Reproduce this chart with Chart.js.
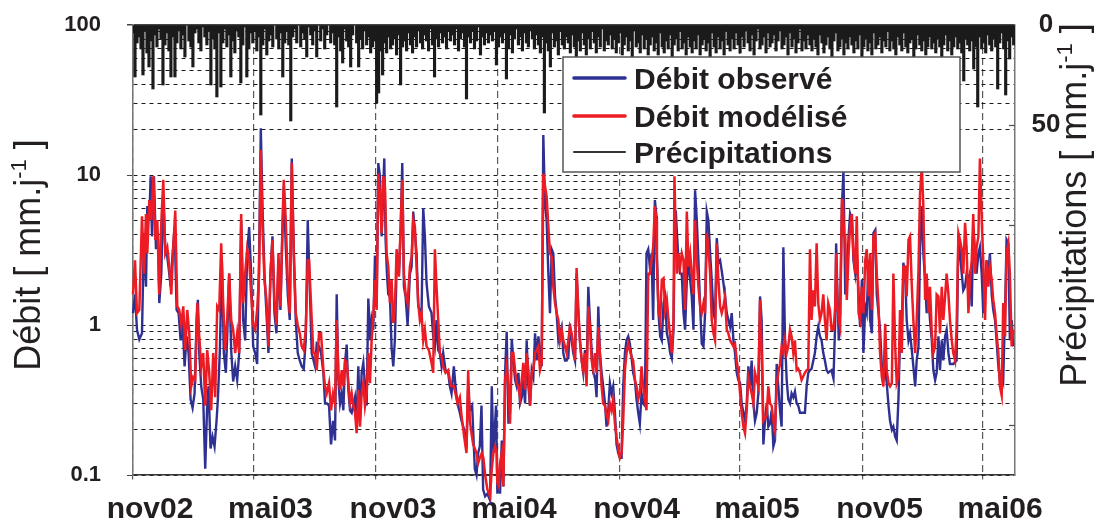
<!DOCTYPE html>
<html lang="fr">
<head>
<meta charset="utf-8">
<title>Débit observé, débit modélisé et précipitations</title>
<script src="https://cdn.jsdelivr.net/npm/chart.js@4.4.1/dist/chart.umd.min.js"></script>
<style>
  html, body { margin: 0; padding: 0; background: #ffffff; }
  canvas { display: block; }
</style>
</head>
<body>
<canvas id="hydro" width="1096" height="525"></canvas>
<script>
// Time axis: days counted from 1 November 2002
const moisJours  = [0, 181, 365, 547, 731, 912, 1096, 1277];
const moisLabels = ['nov02', 'mai03', 'nov03', 'mai04', 'nov04', 'mai05', 'nov05', 'mai06'];
const dernierJour = 1325;

// Discharge axis (log), mm/day
const debitTicks = [0.1, 0.2, 0.3, 0.4, 0.5, 0.6, 0.7, 0.8, 0.9,
                    1, 2, 3, 4, 5, 6, 7, 8, 9,
                    10, 20, 30, 40, 50, 60, 70, 80, 90, 100];
const debitMajeurs = [0.1, 1, 10, 100];
const debitMajeursLabels = ['0.1', '1', '10', '100'];

// Precipitation axis (reversed), mm/day
const precipTicks  = [0, 50, 100, 150, 200];
const precipLabels = ['0', '50', '', '', ''];

// Observed discharge [day, mm/day]
const debitObserve = [
  [0,1.2],[3,1.6],[6,0.93],[9.5,0.8],[13.5,0.88],[16.5,4.1],[19.5,1.8],[21.5,6.2],[24.5,5.0],[26.5,9.8],
  [28.5,3.9],[31.5,9.8],[34.5,3.2],[37.5,4.1],[39.5,1.4],[42.5,2.2],[45.5,7.2],[48.5,3.2],[51.5,2.85],[54.5,2.2],
  [56.5,1.8],[59.5,3.0],[62.5,4.5],[65.5,1.26],[68.5,1.2],[71.5,0.79],[74.5,1.08],[77.5,0.53],[80.5,0.84],[83.5,0.65],
  [86.5,0.32],[89.5,0.28],[92.5,0.35],[95.5,1.08],[97.5,1.47],[99.5,0.65],[102.5,0.39],[105.5,0.32],[108.5,0.11],[111.5,0.3],
  [113.5,0.39],[116.5,0.15],[119.5,0.18],[122.5,0.155],[125.5,0.23],[127.5,0.32],[130.5,0.68],[133.5,2.7],[136.5,0.65],[139.5,0.48],
  [141.5,0.84],[144.5,2.2],[147.5,0.68],[150.5,0.42],[153.5,0.53],[156.5,0.43],[159.5,0.65],[162.5,5.0],[165.5,1.08],[168.5,0.79],
  [171.5,3.0],[174.5,4.5],[177.5,2.2],[180.5,0.72],[183.5,0.65],[186.5,0.55],[189.5,3.0],[192,20.5],[194.5,6.2],[197.5,2.2],
  [200.5,1.2],[203.5,0.65],[206.5,2.2],[209.5,3.9],[212.5,1.2],[215.5,0.88],[218.5,2.7],[221.5,1.26],[224.5,4.1],[226.5,8.4],
  [229.5,3.3],[232.5,1.6],[235.5,1.08],[238.5,12.9],[241.5,3.0],[244.5,1.08],[247.5,0.65],[250.5,0.58],[253.5,0.53],[256.5,0.51],
  [259.5,0.79],[262.5,5.0],[268.5,0.65],[273.5,0.53],[276,0.75],[279.5,0.72],[282.5,0.65],[286,0.48],[288.5,0.3],[291.5,0.3],
  [294.5,0.29],[297.5,0.16],[300.5,0.23],[303.5,0.17],[306,1.6],[308.5,0.43],[311,0.3],[313.5,0.35],[316,0.27],[318.5,0.56],
  [321,0.74],[323.5,0.37],[326,0.27],[328.5,0.26],[333.5,0.33],[336,0.23],[338.5,0.53],[341,0.23],[343.5,0.48],[346,0.56],
  [348.5,0.39],[351,0.29],[353.5,1.5],[356.5,0.79],[358.5,1.08],[361,0.93],[363.5,2.9],[366,1.33],[368.5,12],[371,9.8],
  [373.5,3.9],[376,8.4],[377.5,12.9],[379.5,3.7],[381.5,2.2],[383.5,1.6],[386,1.55],[388.5,0.7],[391,0.53],[393.5,0.81],
  [396.5,3.0],[399.5,2.2],[402,4.1],[404.5,12],[407,1.8],[409.5,1.55],[412.5,1.0],[416,2.2],[418.5,2.45],[421,5.7],
  [423.5,4.1],[426,3.0],[428.5,1.33],[431,1.26],[433.5,1.2],[436,6.0],[438.5,3.9],[441,1.9],[444.5,1.33],[448.5,1.2],
  [451,0.84],[453.5,0.72],[456,1.08],[458.5,0.68],[461,0.65],[463.5,0.53],[466,0.65],[469.5,0.5],[473.5,0.48],[476,0.39],
  [478.5,0.35],[482,0.53],[484.5,0.39],[487.5,0.3],[491,0.26],[493.5,0.23],[497.5,0.2],[501,0.15],[503.5,0.39],[506,0.27],
  [509.5,0.29],[511,0.2],[513.5,0.11],[516,0.1],[518.5,0.14],[521,0.155],[523.5,0.29],[526,0.08],[529,0.072],[532.4,0.075],
  [536.4,0.068],[539,0.39],[541.4,0.14],[545.4,0.29],[547.4,0.075],[549.4,0.1],[551.4,0.075],[554,0.17],[556.4,0.084],[559,0.48],
  [561.4,0.9],[564,0.22],[566.4,0.26],[569,0.81],[571.4,0.58],[574,0.43],[576.4,0.39],[579,0.48],[581.4,0.3],[584,0.33],
  [586.4,0.43],[589,0.3],[591.4,0.79],[594,0.39],[596.4,0.29],[599,0.5],[601.4,0.45],[604,0.88],[606.4,0.58],[609,0.84],
  [611.4,0.65],[614,0.53],[616.4,18.5],[619,6.2],[621.4,5.0],[624,2.2],[626.4,1.2],[629,3.2],[631.4,3.0],[634,1.55],
  [636.4,1.2],[639,0.79],[641.4,0.88],[644,0.97],[646.4,0.65],[649,0.58],[651.4,0.58],[654,0.61],[656.4,1.02],[659,0.79],
  [661.4,0.65],[664,0.58],[666.4,2.2],[669,1.2],[671.4,0.79],[674,0.58],[676.4,0.48],[679,0.68],[681.4,0.48],[684,1.8],
  [686.4,1.08],[689,0.68],[691.4,0.48],[694,0.45],[696.4,0.33],[699,1.33],[701.4,0.65],[704,0.48],[706.4,0.39],[709,0.3],
  [711.4,0.21],[714,0.27],[716.4,0.41],[719,0.35],[721.4,0.39],[724,0.26],[726.4,0.16],[729,0.14],[731.4,0.13],[734,0.13],
  [736.4,0.39],[739,0.65],[741.4,0.79],[744,0.84],[746.4,0.75],[749,0.61],[751.4,0.48],[754,0.43],[756.4,0.32],[759,0.26],
  [761.4,0.22],[764,0.35],[766.4,0.3],[769,0.29],[771.4,3.0],[774,3.2],[776.4,2.45],[779,3.0],[781.4,1.08],[784,6.8],
  [786.4,5.3],[787,3.0],[789.4,1.2],[792,0.84],[794.4,0.79],[797,1.4],[799.4,1.55],[802,0.88],[804.4,0.79],[807,0.65],
  [809.4,0.6],[812,0.93],[813.4,3.0],[815.4,5.8],[817.4,3.9],[819.4,2.7],[822,2.2],[824.4,2.2],[827,1.2],[829.4,0.93],
  [832,2.0],[834.4,2.7],[837,2.0],[839.4,1.55],[842,0.93],[844.4,7.9],[847,5.0],[849.4,2.7],[852,1.33],[854.4,0.75],
  [857,0.72],[859.4,1.2],[862,5.7],[864.4,5.0],[867,3.0],[869.4,2.0],[872,1.2],[874.4,1.08],[877,3.8],[879.4,2.6],
  [882,2.7],[884.4,2.3],[887,1.9],[889.4,1.55],[892,1.2],[894.4,1.08],[897,0.97],[899.4,1.2],[902,0.79],[904.4,0.65],
  [907,0.48],[909.4,0.43],[912,0.41],[914.4,0.3],[917,0.26],[919.4,0.23],[922,0.3],[924.4,0.53],[927,0.39],[929.4,0.58],
  [932,0.3],[934.4,0.23],[937,0.26],[939.4,0.35],[942,1.55],[944.4,1.08],[947,0.16],[949.4,0.23],[952,0.3],[954.4,0.21],
  [957,0.22],[959.4,0.27],[962,0.155],[964.4,0.17],[967,0.55],[969.4,0.39],[972,0.27],[974.4,0.21],[977,3.3],[979.4,0.84],
  [982,0.43],[984.4,0.32],[987,0.3],[989.4,0.35],[992,0.33],[994.4,0.36],[997,0.3],[999.4,0.29],[1002,0.26],[1004.4,0.26],
  [1009.4,0.26],[1012,0.39],[1014.4,0.48],[1017,0.5],[1019.4,0.51],[1024.4,0.65],[1027,0.84],[1029.4,0.97],[1032,0.84],[1034.4,0.79],
  [1037,0.65],[1039.4,0.58],[1042,0.5],[1044.4,0.48],[1049.4,0.5],[1052.3,0.44],[1055,1.08],[1056.3,3.5],[1058.3,1.6],[1060.3,0.79],
  [1062.3,1.2],[1065,6.2],[1067.3,10.8],[1070,1.6],[1072.3,2.0],[1075,3.9],[1077.3,5.5],[1080,5.0],[1082.3,2.7],[1085,2.2],
  [1087.3,3.0],[1090,1.6],[1092.3,0.97],[1095,2.0],[1097.3,0.65],[1100,1.33],[1102.3,1.2],[1105,2.7],[1107.3,1.08],[1110,0.88],
  [1112.3,4.1],[1115,4.3],[1117.3,1.6],[1120,1.2],[1122.3,0.93],[1125,0.53],[1127.3,0.43],[1130,0.5],[1132.3,0.41],[1135,0.29],
  [1137.3,0.23],[1140,0.2],[1142.3,0.21],[1145,0.18],[1147.3,0.17],[1150,0.33],[1152.3,0.84],[1155,0.97],[1157.3,2.6],[1160,2.2],
  [1162.3,1.08],[1165,0.79],[1167.3,0.88],[1170,0.68],[1172.3,0.53],[1175,0.39],[1177.3,0.58],[1180,0.72],[1182.3,3.2],[1185,6.2],
  [1187.3,3.0],[1190,2.0],[1192.3,1.2],[1195,1.6],[1197.3,1.08],[1200,0.79],[1202.3,0.5],[1205,0.43],[1207.3,0.48],[1210,0.84],
  [1212.3,0.5],[1215,0.79],[1217.3,0.58],[1220,0.84],[1222.3,0.93],[1225,0.65],[1227.3,0.55],[1232.3,0.55],[1237.3,0.58],[1240,4.1],
  [1242.3,3.0],[1245,2.2],[1247.3,1.7],[1250,1.8],[1252.3,2.2],[1255,2.0],[1257.3,2.2],[1260,1.33],[1262.3,4.5],[1265,3.0],
  [1267.3,2.2],[1270,3.0],[1272.3,3.3],[1275,2.2],[1277.3,1.2],[1280,1.8],[1282.3,2.7],[1285,2.2],[1287.3,3.0],[1290,1.6],
  [1292.3,1.26],[1295,1.08],[1297.3,0.79],[1300,0.53],[1302.3,0.43],[1305,0.48],[1307.3,0.43],[1310,1.2],[1312.3,3.7],[1315,3.5],
  [1317.3,0.79],[1320,1.08],[1322.3,0.72]
];

// Modelled discharge [day, mm/day]
const debitModelise = [
  [0,1.6],[3,2.7],[6,1.2],[9.5,1.26],[13.5,5.3],[16.5,2.2],[19.5,5.5],[21.5,3.0],[24.5,6.8],[27.5,5.0],
  [30.5,9.8],[33.5,3.7],[36.5,5.0],[39.5,1.6],[42.5,4.8],[45.5,9.3],[48.5,3.0],[51.5,3.3],[54.5,2.45],[57.5,1.6],
  [60.5,3.3],[63.5,5.8],[66.5,1.33],[69.5,1.26],[72.5,1.0],[75.5,1.33],[78.5,0.68],[81.5,1.26],[84.5,0.88],[87.5,0.39],
  [90.5,0.45],[93.5,0.43],[96.5,1.4],[99.5,0.84],[102.5,0.53],[105.5,0.65],[108.5,0.29],[111.5,0.68],[114.5,0.48],[117.5,0.27],
  [120.5,0.65],[123.5,0.33],[126.5,1.33],[129.5,1.26],[132.5,3.5],[135.5,1.4],[138.5,0.68],[141.5,1.08],[144.5,2.2],[147.5,1.08],
  [150.5,0.93],[153.5,0.65],[156.5,0.88],[159.5,0.65],[162.5,5.5],[165.5,1.4],[168.5,2.2],[171.5,3.2],[174.5,2.7],[177.5,1.6],
  [180.5,1.0],[183.5,0.93],[186.5,1.26],[189.5,2.2],[192,14.7],[194.5,4.5],[197.5,2.0],[200.5,1.47],[203.5,0.72],[206.5,2.2],
  [209.5,3.7],[212.5,1.47],[215.5,1.0],[218.5,3.0],[221.5,1.33],[224.5,4.5],[226.5,9.3],[229.5,5.0],[232.5,2.0],[235.5,1.2],
  [238.5,12],[241.5,3.2],[244.5,1.2],[247.5,1.0],[250.5,0.88],[253.5,0.72],[256.5,0.68],[259.5,0.93],[262.5,2.7],[264.5,2.7],
  [268.5,1.08],[271,0.65],[273.5,0.65],[276,0.5],[279.5,0.88],[282.5,0.88],[286,0.5],[288.5,0.39],[291,0.35],[294.5,0.41],
  [297.5,0.27],[300.5,0.35],[303.5,0.3],[306,1.08],[308.5,0.48],[311,0.37],[313.5,0.5],[316,0.39],[318.5,0.58],[321,0.56],
  [323.5,0.41],[326,0.3],[328.5,0.35],[331,0.29],[333.5,0.26],[336,0.19],[338.5,0.37],[341,0.21],[343.5,0.35],[346,0.41],
  [348.5,0.29],[351,0.35],[353.5,0.65],[356,0.41],[358.5,0.79],[361,1.14],[363.5,2.0],[366,1.26],[368.5,10.2],[371,7.5],
  [373.5,4.1],[376,9.8],[378.5,8.4],[381,3.0],[383.5,2.45],[386,1.4],[388.5,2.0],[391,1.03],[393.5,1.33],[396,3.2],
  [399.5,2.1],[402,4.5],[404.5,9.3],[407,2.2],[409.5,1.6],[412.5,1.4],[416,2.45],[418.5,2.85],[421,5.0],[423.5,4.5],
  [426,2.45],[428.5,1.4],[431,1.08],[433.5,1.2],[436,0.79],[438.5,0.93],[441,0.72],[444.5,0.68],[448.5,0.56],[451,0.48],
  [453.5,3.2],[456,1.8],[458.5,1.08],[461,0.65],[463.5,0.62],[466,0.53],[469.5,0.48],[473.5,0.5],[476,0.43],[478.5,0.39],
  [482,0.39],[484.5,0.35],[487.5,0.3],[491,0.33],[493.5,0.25],[497.5,0.18],[501,0.14],[503.5,0.5],[506,0.23],[508.5,0.19],
  [511,0.16],[513.5,0.15],[516,0.14],[518.5,0.12],[521,0.13],[524,0.14],[526.4,0.13],[529,0.1],[532.4,0.08],[536.4,0.072],
  [539,0.11],[541.4,0.14],[544,0.155],[546.4,0.14],[547.4,0.088],[549.4,0.084],[551.4,0.12],[554,0.14],[556.4,0.084],[559,0.43],
  [561.4,0.53],[564,0.39],[566.4,0.22],[569,0.65],[571.4,0.65],[574,0.5],[576.4,0.41],[579,0.39],[581.4,0.33],[584,0.43],
  [586.4,0.56],[589,0.37],[591.4,0.65],[594,0.5],[596.4,0.29],[599,0.48],[601.4,0.5],[604,0.65],[606.4,0.68],[609,0.72],
  [611.4,0.5],[614,0.56],[616.4,10.2],[619,8.4],[621.4,7.2],[624,4.5],[626.4,3.0],[629,2.85],[631.4,1.8],[634,1.4],
  [636.4,1.2],[639,1.08],[641.4,0.79],[644,0.93],[646.4,0.79],[649,0.72],[651.4,0.65],[654,0.79],[656.4,0.97],[659,0.88],
  [661.4,0.72],[664,0.58],[666.4,2.4],[669,1.26],[671.4,0.79],[674,0.58],[676.4,0.5],[679,0.65],[681.4,0.39],[684,1.33],
  [686.4,0.97],[689,0.58],[691.4,0.5],[694,0.65],[696.4,0.48],[699,0.97],[701.4,0.65],[704,0.39],[706.4,0.3],[709,0.29],
  [711.4,0.25],[714,0.23],[716.4,0.3],[719,0.27],[721.4,0.32],[724,0.22],[726.4,0.18],[729,0.15],[731.4,0.13],[734,0.14],
  [736.4,0.23],[739,0.5],[741.4,0.65],[744,0.75],[746.4,0.68],[749,0.61],[751.4,0.58],[754,0.43],[756.4,0.39],[759,0.32],
  [761.4,0.35],[764,0.53],[766.4,0.39],[769,0.32],[771.4,0.27],[774,2.2],[776.4,2.2],[779,2.7],[781.4,3.3],[784,6.2],
  [786.4,5.0],[787,2.7],[789.4,1.26],[792,1.08],[794.4,2.0],[797,2.05],[799.4,1.26],[802,1.47],[804.4,1.08],[807,0.84],
  [809.4,0.65],[812,1.08],[813.4,9.8],[815.4,3.7],[817.4,2.2],[819.4,3.0],[822,2.45],[824.4,3.0],[827,2.7],[829.4,1.26],
  [832,5.7],[834.4,2.45],[837,3.0],[839.4,2.2],[842,1.6],[844.4,5.0],[847,2.7],[849.4,1.8],[852,1.33],[854.4,1.2],
  [857,1.4],[859.4,1.2],[862,4.1],[864.4,3.3],[867,2.2],[869.4,1.08],[872,0.88],[874.4,0.79],[877,3.5],[879.4,2.0],
  [882,1.33],[884.4,1.2],[887,1.33],[889.4,1.55],[892,0.93],[894.4,0.88],[897,0.79],[902,0.72],[904.4,0.75],[907,0.58],
  [909.4,0.48],[912,0.35],[914.4,0.26],[917,0.21],[919.4,0.19],[922,0.27],[924.4,0.45],[927,0.39],[929.4,0.35],[932,0.3],
  [934.4,0.48],[937,0.43],[939.4,0.39],[942,1.47],[944.4,0.65],[947,0.23],[949.4,0.24],[952,0.25],[954.4,0.39],[957,0.3],
  [959.4,0.29],[962,0.23],[964.4,0.2],[967,0.39],[969.4,0.48],[972,0.55],[974.4,0.72],[977,0.65],[979.4,0.79],[982,0.65],
  [984.4,0.72],[987,0.93],[989.4,0.84],[992,0.65],[994.4,0.79],[997,0.5],[999.4,0.51],[1002,0.48],[1004.4,0.43],[1009.4,0.48],
  [1012,0.5],[1014.4,0.51],[1017,3.2],[1019.4,1.08],[1022,1.7],[1024.4,1.33],[1027,3.5],[1029.4,1.4],[1032,1.08],[1034.4,1.2],
  [1037,1.6],[1039.4,1.08],[1042,0.79],[1044.4,1.4],[1047,1.26],[1049.4,0.93],[1052.3,0.93],[1055,1.33],[1056.3,3.0],[1058.3,1.33],
  [1060.3,1.08],[1062.3,0.97],[1065,6.8],[1066.3,6.8],[1068.3,3.9],[1070,3.9],[1072.3,1.47],[1075,3.0],[1077.3,4.5],[1080,5.5],
  [1082.3,3.0],[1085,2.2],[1087.3,5.3],[1090,1.2],[1092.3,1.08],[1095,1.8],[1097.3,1.2],[1100,2.7],[1102.3,3.2],[1105,1.55],
  [1107.3,3.0],[1110,1.26],[1112.3,3.9],[1115,4.1],[1117.3,2.2],[1120,1.33],[1122.3,0.65],[1125,0.45],[1127.3,0.39],[1130,1.02],
  [1132.3,0.5],[1135,0.41],[1137.3,0.39],[1140,0.41],[1142.3,2.2],[1145,0.72],[1147.3,0.41],[1150,0.45],[1152.3,1.26],[1155,0.65],
  [1157.3,2.45],[1160,2.45],[1162.3,1.55],[1165,3.7],[1167.3,3.9],[1170,1.8],[1172.3,1.08],[1175,0.65],[1177.3,1.08],[1180,2.3],
  [1182.3,7.5],[1185,11.4],[1187.3,6.2],[1190,1.47],[1192.3,2.2],[1195,1.2],[1197.3,1.8],[1200,0.88],[1202.3,0.65],[1205,0.72],
  [1207.3,1.6],[1210,1.55],[1212.3,0.88],[1215,1.8],[1217.3,1.08],[1220,1.55],[1222.3,2.2],[1225,1.6],[1227.3,1.08],[1230,0.79],
  [1232.3,0.65],[1235,0.58],[1237.3,0.97],[1240,4.1],[1242.3,3.7],[1245,3.2],[1247.3,2.2],[1250,4.8],[1252.3,3.3],[1255,1.2],
  [1257.3,2.0],[1260,2.7],[1262.3,5.5],[1265,2.2],[1267.3,3.3],[1270,3.9],[1272.3,12.9],[1275,5.0],[1277.3,2.7],[1280,1.08],
  [1282.3,2.7],[1285,1.8],[1287.3,2.45],[1290,2.0],[1292.3,1.47],[1295,1.2],[1297.3,0.88],[1300,0.65],[1302.3,0.39],[1305,0.34],
  [1307.3,1.4],[1310,0.84],[1312.3,3.0],[1315,3.5],[1317.3,2.2],[1320,0.72],[1322.3,0.93]
];

// Precipitation, mm/day, one value per 3-day step starting on day 0
const pasPrecip = 3;
const precipitations = [
  4,26,9,6,12,25,3,14,21,8,32,5,11,2,7,30,10,4,13,26,
  6,26,9,3,12,5,16,0,8,11,21,4,2,9,13,1,6,10,3,30,
  7,12,36,4,31,9,2,11,5,26,8,14,3,6,29,10,1,26,12,4,
  9,3,13,6,45,10,2,15,8,5,11,0,7,12,4,26,9,3,10,48,
  6,2,9,0,11,4,7,16,1,5,10,3,16,0,8,2,12,5,0,9,
  4,10,41,6,13,19,2,8,11,21,5,0,9,21,7,12,3,10,6,14,
  11,8,39,34,13,25,9,14,6,12,10,7,15,5,30,11,8,13,4,10,
  14,6,11,3,9,12,5,8,13,2,10,26,7,11,4,9,6,12,3,8,
  5,10,2,13,7,4,11,37,6,9,3,12,8,1,15,6,10,4,9,5,
  8,3,20,11,6,9,4,27,12,5,14,7,2,10,6,13,4,9,11,3,
  7,12,5,10,14,6,44,9,13,21,4,11,8,15,3,10,12,6,9,14,
  5,11,16,8,13,4,10,15,7,12,3,9,14,6,11,2,13,8,10,5,
  12,7,14,9,4,15,10,6,13,8,16,3,11,9,14,5,12,7,15,10,
  6,13,9,15,4,11,14,8,12,5,16,10,7,13,3,12,9,15,6,11,
  14,8,12,5,15,10,7,13,9,16,4,11,14,6,12,8,15,3,10,13,
  7,12,4,10,14,6,11,3,9,13,5,15,8,2,12,10,6,14,4,11,
  9,5,13,8,3,12,10,6,15,4,11,7,14,9,2,13,8,12,5,10,
  13,7,11,15,5,9,14,10,6,12,16,8,4,13,11,7,15,9,12,6,
  10,14,8,12,5,16,11,7,13,9,15,4,12,10,6,14,8,11,3,13,
  8,12,15,6,10,13,4,11,14,9,7,16,12,5,10,13,8,15,11,6,
  12,9,14,7,11,16,10,5,13,8,15,11,6,12,9,14,28,7,10,13,
  8,22,11,41,6,12,9,14,5,10,13,7,11,32,9,4,12,35,8,17,6,10
];

const POLICE = '"Liberation Sans", Arial, Helvetica, sans-serif';
const ENCRE = '#231f20';
const BLEU = '#2E3192';
const ROUGE = '#ED1C24';

const toXY = pairs => pairs.map(p => ({ x: p[0], y: p[1] }));
const pluie = precipitations.map((v, i) => ({ x: i * pasPrecip, y: v }));

// Rotated axis title with a "-1" superscript
function titreVertical(ctx, morceaux, x, y) {
  const normal = '36px ' + POLICE, exposant = '22px ' + POLICE;
  let w = 0;
  morceaux.forEach(m => { ctx.font = m[1] ? exposant : normal; w += ctx.measureText(m[0]).width; });
  ctx.save();
  ctx.translate(x, y);
  ctx.rotate(-Math.PI / 2);
  ctx.fillStyle = ENCRE;
  ctx.textAlign = 'left';
  ctx.textBaseline = 'alphabetic';
  let u = -w / 2;
  morceaux.forEach(m => {
    ctx.font = m[1] ? exposant : normal;
    ctx.fillText(m[0], u, m[1] ? -14 : 0);
    u += ctx.measureText(m[0]).width;
  });
  ctx.restore();
}

// Vertical axes: fixed widths, no extra label padding above/below the plot
const largeurFixe = w => s => { s.width = w; s.paddingTop = 0; s.paddingBottom = 0; };

const habillage = {
  id: 'habillage',
  afterDatasetsDraw(chart) {
    const { ctx, chartArea: a, scales } = chart;
    // inward tick marks on the precipitation axis
    ctx.save();
    ctx.strokeStyle = '#555';
    ctx.lineWidth = 1.3;
    precipTicks.forEach(v => {
      if (v === 0) return;
      const y = Math.round(scales.yP.getPixelForValue(v)) + 0.5;
      ctx.beginPath(); ctx.moveTo(a.right - 6, y); ctx.lineTo(a.right, y); ctx.stroke();
    });
    ctx.restore();

    // legend box inside the plot
    const bx = a.left + 430, by = a.top + 32, bw = 397, bh = 115;
    ctx.save();
    ctx.fillStyle = '#ffffff';
    ctx.fillRect(bx, by, bw, bh);
    ctx.strokeStyle = '#555';
    ctx.lineWidth = 1.5;
    ctx.strokeRect(bx, by, bw, bh);
    const lignes = [
      { ds: chart.data.datasets[0], y: by + 21, w: 3.6 },
      { ds: chart.data.datasets[1], y: by + 59, w: 3.6 },
      { ds: chart.data.datasets[2], y: by + 95, w: 2 }
    ];
    ctx.font = 'bold 30px ' + POLICE;
    ctx.textBaseline = 'alphabetic';
    ctx.textAlign = 'left';
    lignes.forEach(l => {
      const c = l.ds.legendColor || l.ds.borderColor;
      ctx.strokeStyle = c;
      ctx.lineWidth = l.w;
      ctx.lineCap = 'round';
      ctx.beginPath(); ctx.moveTo(bx + 11, l.y); ctx.lineTo(bx + 62, l.y); ctx.stroke();
      ctx.fillStyle = ENCRE;
      ctx.fillText(l.ds.label, bx + 71, l.y + 11);
    });
    ctx.restore();
  },
  afterDraw(chart) {
    const { ctx } = chart;
    titreVertical(ctx, [['Débit [ mm.j', false], ['-1', true], [' ]', false]], 40, 255);
    titreVertical(ctx, [['Précipitations [ mm.j', false], ['-1', true], [' ]', false]], 1086, 205);
  }
};

new Chart(document.getElementById('hydro'), {
  type: 'line',
  data: {
    datasets: [
      {
        label: 'Débit observé',
        data: toXY(debitObserve),
        borderColor: BLEU,
        borderWidth: 2.4,
        pointRadius: 0,
        tension: 0,
        clip: false,
        yAxisID: 'y',
        order: 2
      },
      {
        label: 'Débit modélisé',
        data: toXY(debitModelise),
        borderColor: ROUGE,
        borderWidth: 2.5,
        pointRadius: 0,
        tension: 0,
        clip: false,
        yAxisID: 'y',
        order: 1
      },
      {
        type: 'bar',
        label: 'Précipitations',
        data: pluie,
        backgroundColor: '#1b1b1b',
        legendColor: '#333333',
        borderWidth: 0,
        barThickness: 2.5,
        grouped: false,
        yAxisID: 'yP',
        order: 3
      }
    ]
  },
  options: {
    responsive: false,
    animation: false,
    events: [],
    layout: { padding: { top: 25, left: 0, right: 0, bottom: 0 } },
    plugins: { legend: { display: false }, tooltip: { enabled: false } },
    scales: {
      x: {
        type: 'linear',
        position: 'bottom',
        offset: false,
        min: 0,
        max: dernierJour,
        afterBuildTicks: s => { s.ticks = moisJours.map(v => ({ value: v })); },
        afterFit: s => { s.height = 50; s.paddingLeft = 0; s.paddingRight = 0; },
        ticks: {
          autoSkip: false,
          maxRotation: 0,
          padding: 10,
          labelOffset: 17,
          color: ENCRE,
          font: { family: POLICE, size: 30, weight: 'bold' },
          callback: (v, i) => moisLabels[i]
        },
        grid: {
          offset: false,
          color: '#5a5a5a',
          lineWidth: 1.2,
          tickLength: 7,
          tickColor: '#5a5a5a',
          tickBorderDash: [4, 3]
        },
        border: { display: true, color: '#333', width: 1.5, dash: [7, 4] }
      },
      y: {
        type: 'logarithmic',
        position: 'left',
        min: 0.1,
        max: 100,
        afterBuildTicks: s => { s.ticks = debitTicks.map(v => ({ value: v })); },
        afterFit: largeurFixe(133),
        ticks: {
          autoSkip: false,
          padding: 26,
          color: ENCRE,
          font: { family: POLICE, size: 22, weight: 'bold' },
          callback: v => {
            const k = debitMajeurs.indexOf(v);
            return k >= 0 ? debitMajeursLabels[k] : '';
          }
        },
        grid: {
          color: c => (c.tick && c.tick.value === 100) ? '#444' : '#1a1a1a',
          lineWidth: c => (c.tick && c.tick.value === 100) ? 1.5 : 1,
          tickLength: 6,
          tickColor: c => (c.tick && debitMajeurs.includes(c.tick.value)) ? '#444' : 'rgba(0,0,0,0)'
        },
        border: {
          display: true,
          color: '#777',
          width: 1.5,
          dash: c => (c.tick && c.tick.value === 100) ? [] : [4, 4]
        }
      },
      yP: {
        type: 'linear',
        position: 'right',
        reverse: true,
        min: 0,
        max: 225,
        afterBuildTicks: s => { s.ticks = precipTicks.map(v => ({ value: v })); },
        afterFit: largeurFixe(81),
        ticks: {
          autoSkip: false,
          padding: 16.5,
          crossAlign: 'center',
          color: ENCRE,
          font: { family: POLICE, size: 26, weight: 'bold' },
          callback: (v, i) => precipLabels[i]
        },
        grid: { drawOnChartArea: false, drawTicks: false },
        border: { display: true, color: '#777', width: 1.5 }
      }
    }
  },
  plugins: [habillage]
});
</script>
</body>
</html>
